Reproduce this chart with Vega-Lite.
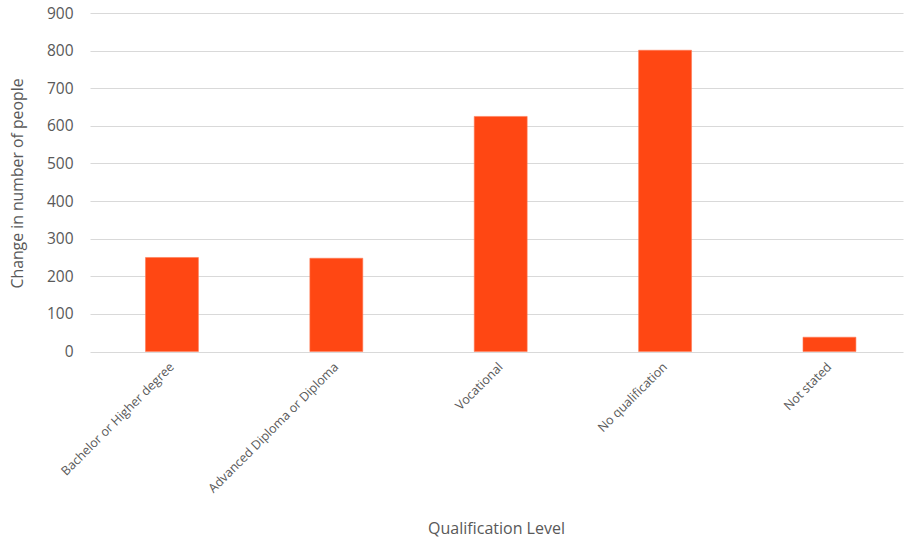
{
  "$schema": "https://vega.github.io/schema/vega-lite/v6.json",
  "autosize": "none",
  "width": 813,
  "height": 338.5,
  "padding": {"left": 90, "top": 13, "right": 1, "bottom": 190},
  "background": "white",
  "config": {
    "view": {"stroke": null},
    "font": "Open Sans",
    "axis": {"labelColor": "#595959", "titleColor": "#595959", "titleFontWeight": "normal", "labelFont": "Open Sans", "titleFont": "Open Sans"}
  },
  "data": {
    "values": [
      {"level": "Bachelor or Higher degree", "change": 250},
      {"level": "Advanced Diploma or Diploma", "change": 248},
      {"level": "Vocational", "change": 625},
      {"level": "No qualification", "change": 801},
      {"level": "Not stated", "change": 38}
    ]
  },
  "mark": {"type": "bar", "color": "#FF4713", "stroke": "#FF7A55", "strokeWidth": 0.6},
  "encoding": {
    "x": {
      "field": "level",
      "type": "nominal",
      "sort": null,
      "scale": {"paddingInner": 0.678, "paddingOuter": 0.312, "align": 0.541},
      "axis": {
        "title": "Qualification Level",
        "titleFontSize": 16,
        "titleX": 406,
        "titleY": 177,
        "titleBaseline": "middle",
        "labelAngle": -45,
        "labelAlign": "right",
        "labelBaseline": "middle",
        "labelFontSize": 12.5,
        "labelPadding": 13,
        "labelOverlap": false,
        "labelLimit": 300,
        "ticks": false,
        "domain": false,
        "grid": false
      }
    },
    "y": {
      "field": "change",
      "type": "quantitative",
      "scale": {"domain": [0, 900], "nice": false},
      "axis": {
        "title": "Change in number of people",
        "titleFontSize": 15.8,
        "titleAngle": -90,
        "titleX": -73,
        "titleY": 170,
        "titleAlign": "center",
        "titleBaseline": "middle",
        "values": [0, 100, 200, 300, 400, 500, 600, 700, 800, 900],
        "labelFontSize": 15.5,
        "labelPadding": 17,
        "ticks": false,
        "domain": false,
        "grid": true,
        "gridColor": "#D9D9D9",
        "gridWidth": 1.2
      }
    }
  }
}
